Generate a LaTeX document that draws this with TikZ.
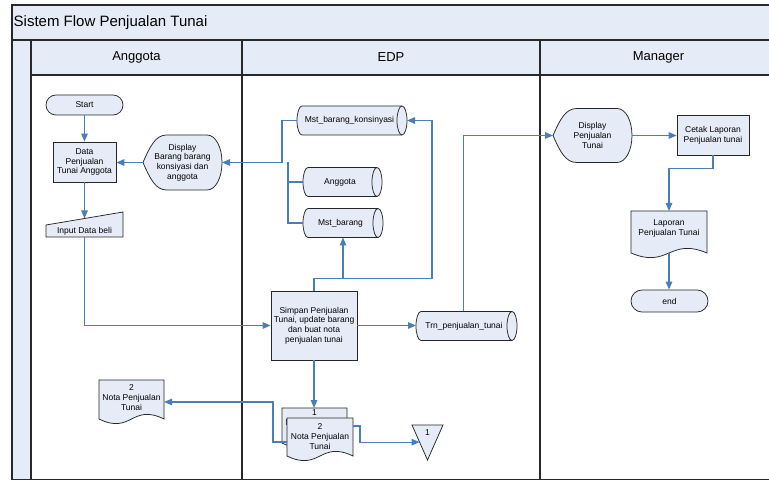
\documentclass[tikz,border=0pt]{standalone}
\usepackage{fontspec}
\setmainfont{Liberation Sans}
\usetikzlibrary{arrows.meta,calc}

\definecolor{lanefill}{RGB}{230,236,247}
\definecolor{shapefill}{RGB}{230,236,247}
\definecolor{flowblue}{RGB}{74,126,187}
\definecolor{framegray}{RGB}{40,40,40}

\newcommand\smalltext{\fontsize{8.5}{9.7}\selectfont}
\newcommand\headtext{\fontsize{13}{15}\selectfont}
\newcommand\titletext{\fontsize{15}{17}\selectfont}

\tikzset{
  shapeline/.style={draw=black!85, fill=shapefill, line width=0.75pt},
  procbox/.style={shapeline, align=center, font=\smalltext, inner sep=1pt},
  termbox/.style={procbox, rounded corners=#1},
  frame node/.style={inner sep=0pt, outer sep=0pt, draw=none},
  label text/.style={align=center, font=\smalltext, inner sep=0pt},
  flow/.style={draw=flowblue, line width=1.3pt, -{Triangle[length=8pt,width=6.5pt]}},
  link/.style={draw=flowblue, line width=1.3pt},
  lane/.style={draw=framegray, line width=1.3pt},
}

% display symbol: name, cx, cy, width, height, text
\newcommand\displaynode[6]{%
  \node[frame node, minimum width=#4pt, minimum height=#5pt] (#1) at (#2,#3) {};
  \path[shapeline]
    (#2-0.5*#4, #3)
    .. controls (#2-0.41*#4, #3-0.3*#5) and (#2-0.34*#4, #3-0.5*#5) .. (#2-0.2*#4, #3-0.5*#5)
    -- (#2+0.31*#4, #3-0.5*#5)
    .. controls (#2+0.42*#4, #3-0.5*#5) and (#2+0.5*#4, #3-0.276*#5) .. (#2+0.5*#4, #3)
    .. controls (#2+0.5*#4, #3+0.276*#5) and (#2+0.42*#4, #3+0.5*#5) .. (#2+0.31*#4, #3+0.5*#5)
    -- (#2-0.2*#4, #3+0.5*#5)
    .. controls (#2-0.34*#4, #3+0.5*#5) and (#2-0.41*#4, #3+0.3*#5) .. cycle;
  \node[label text] (#1-text) at (#2,#3) {#6};
}

% document symbol: name, cx, cy, width, height to wave ends, text y, text
\newcommand\docnode[7]{%
  \node[frame node, minimum width=#4pt, minimum height=#5pt] (#1) at (#2,#3) {};
  \path[shapeline]
    (#2-0.5*#4, #3-0.5*#5) -- (#2+0.5*#4, #3-0.5*#5) -- (#2+0.5*#4, #3+0.5*#5)
    .. controls (#2, #3+0.5*#5-16) and (#2, #3+0.5*#5+16) .. (#2-0.5*#4, #3+0.5*#5)
    -- cycle;
  \node[label text] (#1-text) at (#2,#6) {#7};
}

% stored data (horizontal cylinder): name, cx, cy, width, text
\newcommand\cylnode[5]{%
  \node[frame node, minimum width=#4pt, minimum height=29pt] (#1) at (#2,#3) {};
  \path[shapeline]
    (#2-0.5*#4+5, #3-14.5) -- (#2+0.5*#4-5, #3-14.5)
    .. controls (#2+0.5*#4-2.24, #3-14.5) and (#2+0.5*#4, #3-8) .. (#2+0.5*#4, #3)
    .. controls (#2+0.5*#4, #3+8) and (#2+0.5*#4-2.24, #3+14.5) .. (#2+0.5*#4-5, #3+14.5)
    -- (#2-0.5*#4+5, #3+14.5)
    .. controls (#2-0.5*#4+2.24, #3+14.5) and (#2-0.5*#4, #3+8) .. (#2-0.5*#4, #3)
    .. controls (#2-0.5*#4, #3-8) and (#2-0.5*#4+2.24, #3-14.5) .. cycle;
  \draw[shapeline, fill=none]
    (#2+0.5*#4-5, #3-14.5)
    .. controls (#2+0.5*#4-7.76, #3-14.5) and (#2+0.5*#4-10, #3-8) .. (#2+0.5*#4-10, #3)
    .. controls (#2+0.5*#4-10, #3+8) and (#2+0.5*#4-7.76, #3+14.5) .. (#2+0.5*#4-5, #3+14.5);
  \node[label text] (#1-text) at (#2-2.5,#3) {#5};
}

\begin{document}
\begin{tikzpicture}[x=1pt,y=-1pt]
\useasboundingbox (0,0) rectangle (769,481);
\clip (0,0) rectangle (769,481);
\fill[white] (0,0) rectangle (769,481);

% pool with title band, lane headers and lanes
\fill[lanefill] (12,5) rectangle (780,40);
\fill[lanefill] (31,40) rectangle (780,75);
\fill[lanefill] (12,40) rectangle (31,479.5);
\draw[lane] (12,5) rectangle (780,479.5);
\draw[lane] (12,40) -- (780,40);
\draw[lane] (31,75) -- (780,75);
\draw[lane] (31,40) -- (31,479.5);
\draw[lane] (242,40) -- (242,479.5);
\draw[lane] (540,40) -- (540,479.5);

\node[anchor=west, font=\titletext, inner sep=0pt] (title) at (13.5,22.5) {Sistem Flow Penjualan Tunai};
\node[font=\headtext, inner sep=0pt] (hAnggota) at (136.5,57.5) {Anggota};
\node[font=\headtext, inner sep=0pt] (hEDP) at (391,57.5) {EDP};
\node[font=\headtext, inner sep=0pt] (hManager) at (658.5,57.5) {Manager};

% ---- Anggota lane
\node[termbox=10pt, minimum width=77pt, minimum height=20pt] (start) at (84.5,105) {Start};
\node[procbox, minimum width=63pt, minimum height=40pt] (data) at (84.5,162) {Data\\Penjualan\\Tunai Anggota};
\displaynode{dispA}{182.5}{162.5}{79}{55}{Display\\Barang barang\\konsiyasi dan\\anggota}
\node[frame node, minimum width=77pt, minimum height=25pt] (input) at (84.5,224.5) {};
\path[shapeline] (input.south west) -- (input.south east) -- (input.north east)
  -- ($(input.north west)+(0,13)$) -- cycle;
\node[label text] (input-text) at (84.5,231) {Input Data beli};
\docnode{nota2}{131.5}{399.5}{65}{39}{397.5}{2\\Nota Penjualan\\Tunai}

% ---- EDP lane
\cylnode{mbk}{352}{120.5}{110}{Mst\_barang\_konsinyasi}
\cylnode{ang}{342.5}{182}{79}{Anggota}
\cylnode{mb}{343}{223}{80}{Mst\_barang}
\node[procbox, minimum width=86pt, minimum height=69pt] (simpan) at (314,325.5)
  {Simpan Penjualan\\Tunai, update barang\\dan buat nota\\penjualan tunai};
\cylnode{trn}{466.5}{326}{101}{Trn\_penjualan\_tunai}
\docnode{doc1}{314.5}{425.5}{65}{35}{422.7}{1\\Nota Penjualan\\Tunai}
\docnode{doc2}{320}{437}{66}{38}{436.5}{2\\Nota Penjualan\\Tunai}
\node[frame node, minimum width=31pt, minimum height=35pt] (off) at (427.5,442.5) {};
\path[shapeline] (off.north west) -- (off.north east) -- (off.south) -- cycle;
\node[label text] (off-text) at (427.5,432.5) {1};

% ---- Manager lane
\displaynode{dispM}{592.5}{135.5}{79}{54}{Display\\Penjualan\\Tunai}
\node[procbox, minimum width=72pt, minimum height=40pt] (cetak) at (713,135) {Cetak Laporan\\Penjualan tunai};
\docnode{lap}{669}{232}{76}{42}{228.5}{Laporan\\Penjualan Tunai}
\node[termbox=11pt, minimum width=77pt, minimum height=22pt] (endn) at (669.5,301) {end};

% ---- connectors
\draw[flow] (start.south) -- (start.south |- data.north);
\draw[flow] (data.south) -- ($(data.south |- input.north)+(0,6.5)$);
\draw[flow] (dispA.west) -- (dispA.west -| data.east);
\draw[flow] (input.south) |- (simpan.west);

\draw[flow] (mbk.west) -- ++(-15,0) |- (dispA.east);
\draw[link] (ang.west) -| ($(dispA.east)+(66,0)$);
\draw[link] (mb.west) -| ($(dispA.east)+(66,0)$);

\coordinate (split) at ($(simpan.north)+(0,-12)$);
\draw[flow] (simpan.north) -- (split) -| ($(mbk.east)+(25,0)$) -- (mbk.east);
\draw[flow] (split -| mb.south) -- (mb.south);

\draw[flow] (simpan.east) -- (simpan.east -| trn.west);
\draw[flow] ($(trn.north)+(-3,0)$) |- (dispM.west);
\draw[flow] (simpan.south) -- (simpan.south |- doc1.north);

\draw[flow] ($(doc2.north east)+(0,8)$) -- ++(7,0) |- ($(off.north west)!0.49!(off.south)$);
\draw[flow] ($(doc2.west)+(0,5)$) -- ++(-14,0) |- ($(nota2.east)+(0,2.5)$);

\draw[flow] (dispM.east) -- (dispM.east -| cetak.west);
\draw[flow] (cetak.south) -- ++(0,13) -| (lap.north);
\draw[flow] (lap.south) -- (lap.south |- endn.north);
\end{tikzpicture}
\end{document}
